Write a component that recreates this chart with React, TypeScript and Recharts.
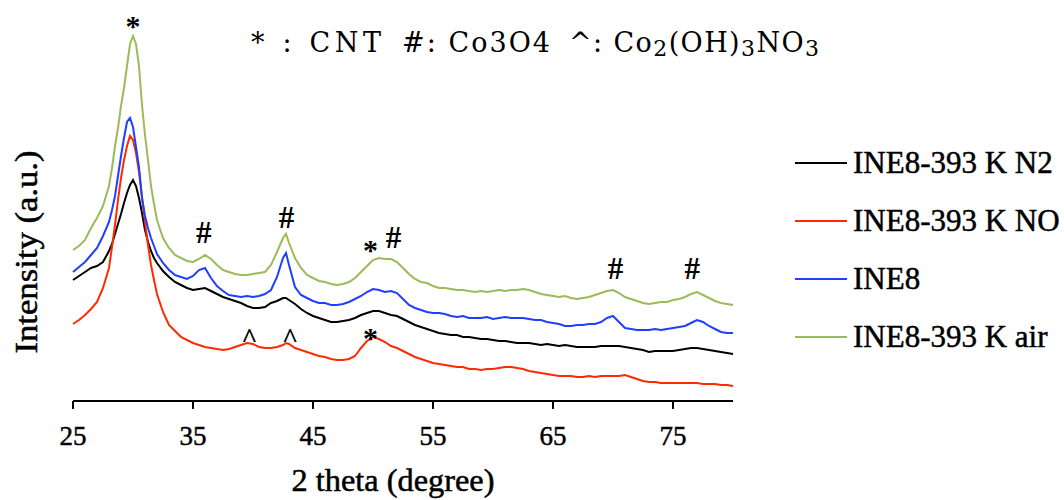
import { LineChart, Line, XAxis, YAxis, Legend, ReferenceDot } from "recharts"

const FONT = '"Liberation Serif", "Times New Roman", serif'
const NOTE_FONT = '"DejaVu Serif", serif'

// 2 theta (degree) sampling, denser around the main CNT peak
const twoTheta = [
  25, 25.5, 26, 26.5, 27, 27.5, 28,
  28.25, 28.5, 28.75, 29, 29.25, 29.5, 29.75, 30, 30.25, 30.5, 30.75, 31, 31.25, 31.5, 31.75,
  32, 32.5, 33, 33.5, 34, 34.5, 35, 35.5, 36, 36.5, 37, 37.5, 38, 38.5, 39, 39.5, 40, 40.5, 41, 41.5, 42, 42.5,
  42.75,
  43, 43.5, 44, 44.5, 45, 45.5, 46, 46.5, 47, 47.5,
  48, 48.5, 49, 49.5, 50, 50.5, 51, 51.5, 52, 52.5,
  53, 53.5, 54, 54.5, 55, 55.5, 56, 56.5, 57, 57.5,
  58, 58.5, 59, 59.5, 60, 60.5, 61, 61.5, 62, 62.5,
  63, 63.5, 64, 64.5, 65, 65.5, 66, 66.5, 67, 67.5,
  68, 68.5, 69, 69.5, 70, 70.5, 71, 71.5, 72, 72.5,
  73, 73.5, 74, 74.5, 75, 75.5, 76, 76.5, 77, 77.5,
  78, 78.5, 79, 79.5, 80,
]

const n2 = [
  121, 125, 129, 133, 135, 139, 150,
  157, 167, 177, 187, 198, 208, 216, 221, 215, 203, 188, 171, 159, 150, 143,
  138, 130, 124, 119, 116, 113, 111, 112, 113, 110, 107, 104, 102, 100, 98, 95, 93, 93, 94, 98, 100, 103,
  103,
  101, 97, 92, 88, 85, 83, 81, 79, 79, 80,
  81, 83, 86, 88, 90, 90, 88, 86, 85, 82,
  79, 76, 74, 72, 70, 68, 67, 66, 66, 64,
  64, 63, 62, 62, 61, 60, 60, 59, 58, 58,
  58, 57, 56, 57, 56, 55, 56, 55, 54, 54,
  54, 54, 55, 55, 55, 55, 54, 53, 52, 51,
  49, 50, 50, 50, 50, 51, 52, 53, 53, 52,
  51, 50, 49, 48, 47,
]

const no = [
  77, 81, 86, 92, 99, 113, 133,
  154, 176, 201, 223, 241, 255, 265, 261, 248, 229, 204, 179, 156, 136, 121,
  107, 89, 76, 70, 64, 61, 58, 56, 54, 53, 52, 51, 52, 54, 56, 58, 57, 54, 53, 53, 54, 56,
  58,
  57, 53, 51, 49, 47, 45, 44, 42, 41, 41,
  42, 45, 53, 60, 64, 62, 59, 55, 53, 50,
  47, 44, 42, 40, 38, 37, 36, 35, 34, 34,
  32, 32, 31, 32, 32, 33, 34, 34, 33, 32,
  30, 29, 28, 27, 26, 25, 25, 25, 24, 24,
  25, 24, 25, 25, 25, 25, 26, 24, 22, 20,
  19, 19, 18, 18, 18, 18, 18, 18, 18, 17,
  17, 17, 16, 16, 15,
]

const ine8 = [
  129, 134, 139, 146, 153, 165, 179,
  191, 205, 225, 245, 263, 279, 283, 274, 254, 234, 203, 185, 173, 163, 155,
  147, 138, 131, 126, 124, 122, 125, 131, 133, 123, 115, 110, 106, 105, 104, 105, 104, 105, 107, 111, 124, 143,
  148,
  136, 114, 106, 103, 100, 98, 98, 96, 96, 97,
  99, 102, 105, 109, 112, 111, 109, 110, 108, 102,
  96, 93, 91, 89, 88, 88, 87, 85, 84, 85,
  83, 83, 83, 84, 82, 83, 84, 83, 83, 83,
  82, 81, 81, 79, 78, 77, 75, 75, 76, 76,
  77, 77, 79, 83, 85, 79, 73, 72, 71, 71,
  71, 72, 71, 72, 73, 74, 75, 78, 81, 79,
  75, 72, 69, 68, 68,
]

const air = [
  151, 155, 161, 173, 183, 195, 215,
  233, 255, 273, 295, 313, 335, 357, 365, 357, 335, 296, 266, 241, 215, 197,
  181, 163, 153, 146, 143, 140, 139, 142, 146, 142, 136, 131, 129, 127, 126, 126, 127, 128, 129, 136, 149, 163,
  167,
  158, 143, 133, 126, 123, 120, 119, 117, 116, 117,
  119, 123, 129, 135, 141, 143, 142, 142, 139, 133,
  127, 122, 119, 118, 115, 113, 113, 112, 111, 111,
  110, 109, 110, 109, 110, 111, 110, 111, 111, 112,
  111, 109, 107, 106, 105, 104, 105, 103, 102, 103,
  104, 106, 108, 110, 111, 108, 104, 102, 100, 98,
  97, 98, 99, 99, 101, 102, 104, 107, 109, 106,
  103, 100, 98, 97, 96,
]

const xTicks = [25, 35, 45, 55, 65, 75]

const series = [
  { key: "n2", name: "INE8-393 K N2", color: "#000000" },
  { key: "no", name: "INE8-393 K NO", color: "#ff2a00" },
  { key: "ine8", name: "INE8", color: "#1f3fff" },
  { key: "air", name: "INE8-393 K air", color: "#9bbb59" },
]

// peak markers: * CNT, # Co3O4, ^ Co2(OH)3NO3
const peakSymbols = ["*", "#", "#", "*", "#", "^", "^", "*", "#", "#"]
const peakTheta = [30.0, 35.9, 42.8, 49.8, 51.7, 39.7, 43.1, 49.8, 70.2, 76.6]
const peakLevel = [376, 169, 184, 152, 164, 64, 64, 64, 133, 133]

const symbolSize: Record<string, number> = { "*": 30, "#": 31, "^": 28 }

const data = twoTheta.map((t, i) => ({
  theta: t,
  n2: n2[i],
  no: no[i],
  ine8: ine8[i],
  air: air[i],
}))

function renderLegend() {
  return (
    <div style={{ fontFamily: FONT, fontSize: 31, color: "#000", WebkitTextStroke: "0.5px #000" }}>
      {series.map((s) => (
        <div key={s.key} style={{ display: "flex", alignItems: "center", height: 58 }}>
          <svg width={52} height={4} style={{ marginRight: 6 }}>
            <line x1={0} y1={2} x2={52} y2={2} stroke={s.color} strokeWidth={2} />
          </svg>
          <span style={{ whiteSpace: "nowrap" }}>{s.name}</span>
        </div>
      ))}
    </div>
  )
}

function YTitle() {
  return (
    <text
      x={37}
      y={252}
      transform="rotate(-90, 37, 252)"
      textAnchor="middle"
      fontFamily={FONT}
      fontSize={32}
      fill="#000"
      stroke="#000"
      strokeWidth={0.5}
      textLength={203}
      lengthAdjust="spacingAndGlyphs"
    >
      Intensity (a.u.)
    </text>
  )
}

function XTitle() {
  return (
    <text
      x={393}
      y={491}
      textAnchor="middle"
      fontFamily={FONT}
      fontSize={31}
      fill="#000"
      stroke="#000"
      strokeWidth={0.5}
      textLength={203}
      lengthAdjust="spacingAndGlyphs"
    >
      2 theta (degree)
    </text>
  )
}

export default function App() {
  return (
    <div style={{ position: "absolute", left: 0, top: 0, width: 1064, height: 500, background: "#fff" }}>
      <LineChart width={1064} height={500} data={data} margin={{ top: 1, right: 331, bottom: 0, left: 0 }}>
        <XAxis
          type="number"
          dataKey="theta"
          domain={[25, 80]}
          ticks={xTicks}
          interval={0}
          height={99}
          tickSize={8}
          tickMargin={17}
          axisLine={{ stroke: "#000", strokeWidth: 2 }}
          tickLine={{ stroke: "#000", strokeWidth: 2 }}
          tick={{ fill: "#000", stroke: "#000", strokeWidth: 0.5, fontSize: 27, fontFamily: FONT }}
          label={XTitle}
        />
        <YAxis
          type="number"
          domain={[0, 400]}
          width={73}
          axisLine={false}
          tickLine={false}
          tick={false}
          label={YTitle}
        />
        <Legend
          layout="vertical"
          align="center"
          verticalAlign="middle"
          wrapperStyle={{ left: 795, top: 134, width: 269 }}
          content={renderLegend}
        />
        {series.map((s) => (
          <Line
            key={s.key}
            type="linear"
            dataKey={s.key}
            name={s.name}
            stroke={s.color}
            strokeWidth={2}
            dot={false}
            isAnimationActive={false}
          />
        ))}
        {peakSymbols.map((sym, i) => (
          <ReferenceDot
            key={i}
            x={peakTheta[i]}
            y={peakLevel[i]}
            r={0}
            fill="none"
            stroke="none"
            ifOverflow="visible"
            label={{
              value: sym,
              position: "center",
              fill: "#000",
              fontSize: symbolSize[sym],
              fontWeight: 700,
              fontFamily: FONT,
            }}
          />
        ))}
      </LineChart>
      <svg width={1064} height={70} style={{ position: "absolute", left: 0, top: 0, pointerEvents: "none" }}>
        <g fontFamily={NOTE_FONT} fontSize={27} fill="#000">
          <text x={251} y={52} textLength={130} lengthAdjust="spacing">* : CNT</text>
          <text x={402} y={52} textLength={148} lengthAdjust="spacing">#: Co3O4</text>
          <text x={569} y={52} textLength={250} lengthAdjust="spacing">
            ^: Co<tspan dy={4} fontSize={22}>2</tspan>
            <tspan dy={-4}>(OH)</tspan>
            <tspan dy={4} fontSize={22}>3</tspan>
            <tspan dy={-4}>NO</tspan>
            <tspan dy={4} fontSize={22}>3</tspan>
          </text>
        </g>
      </svg>
    </div>
  )
}
